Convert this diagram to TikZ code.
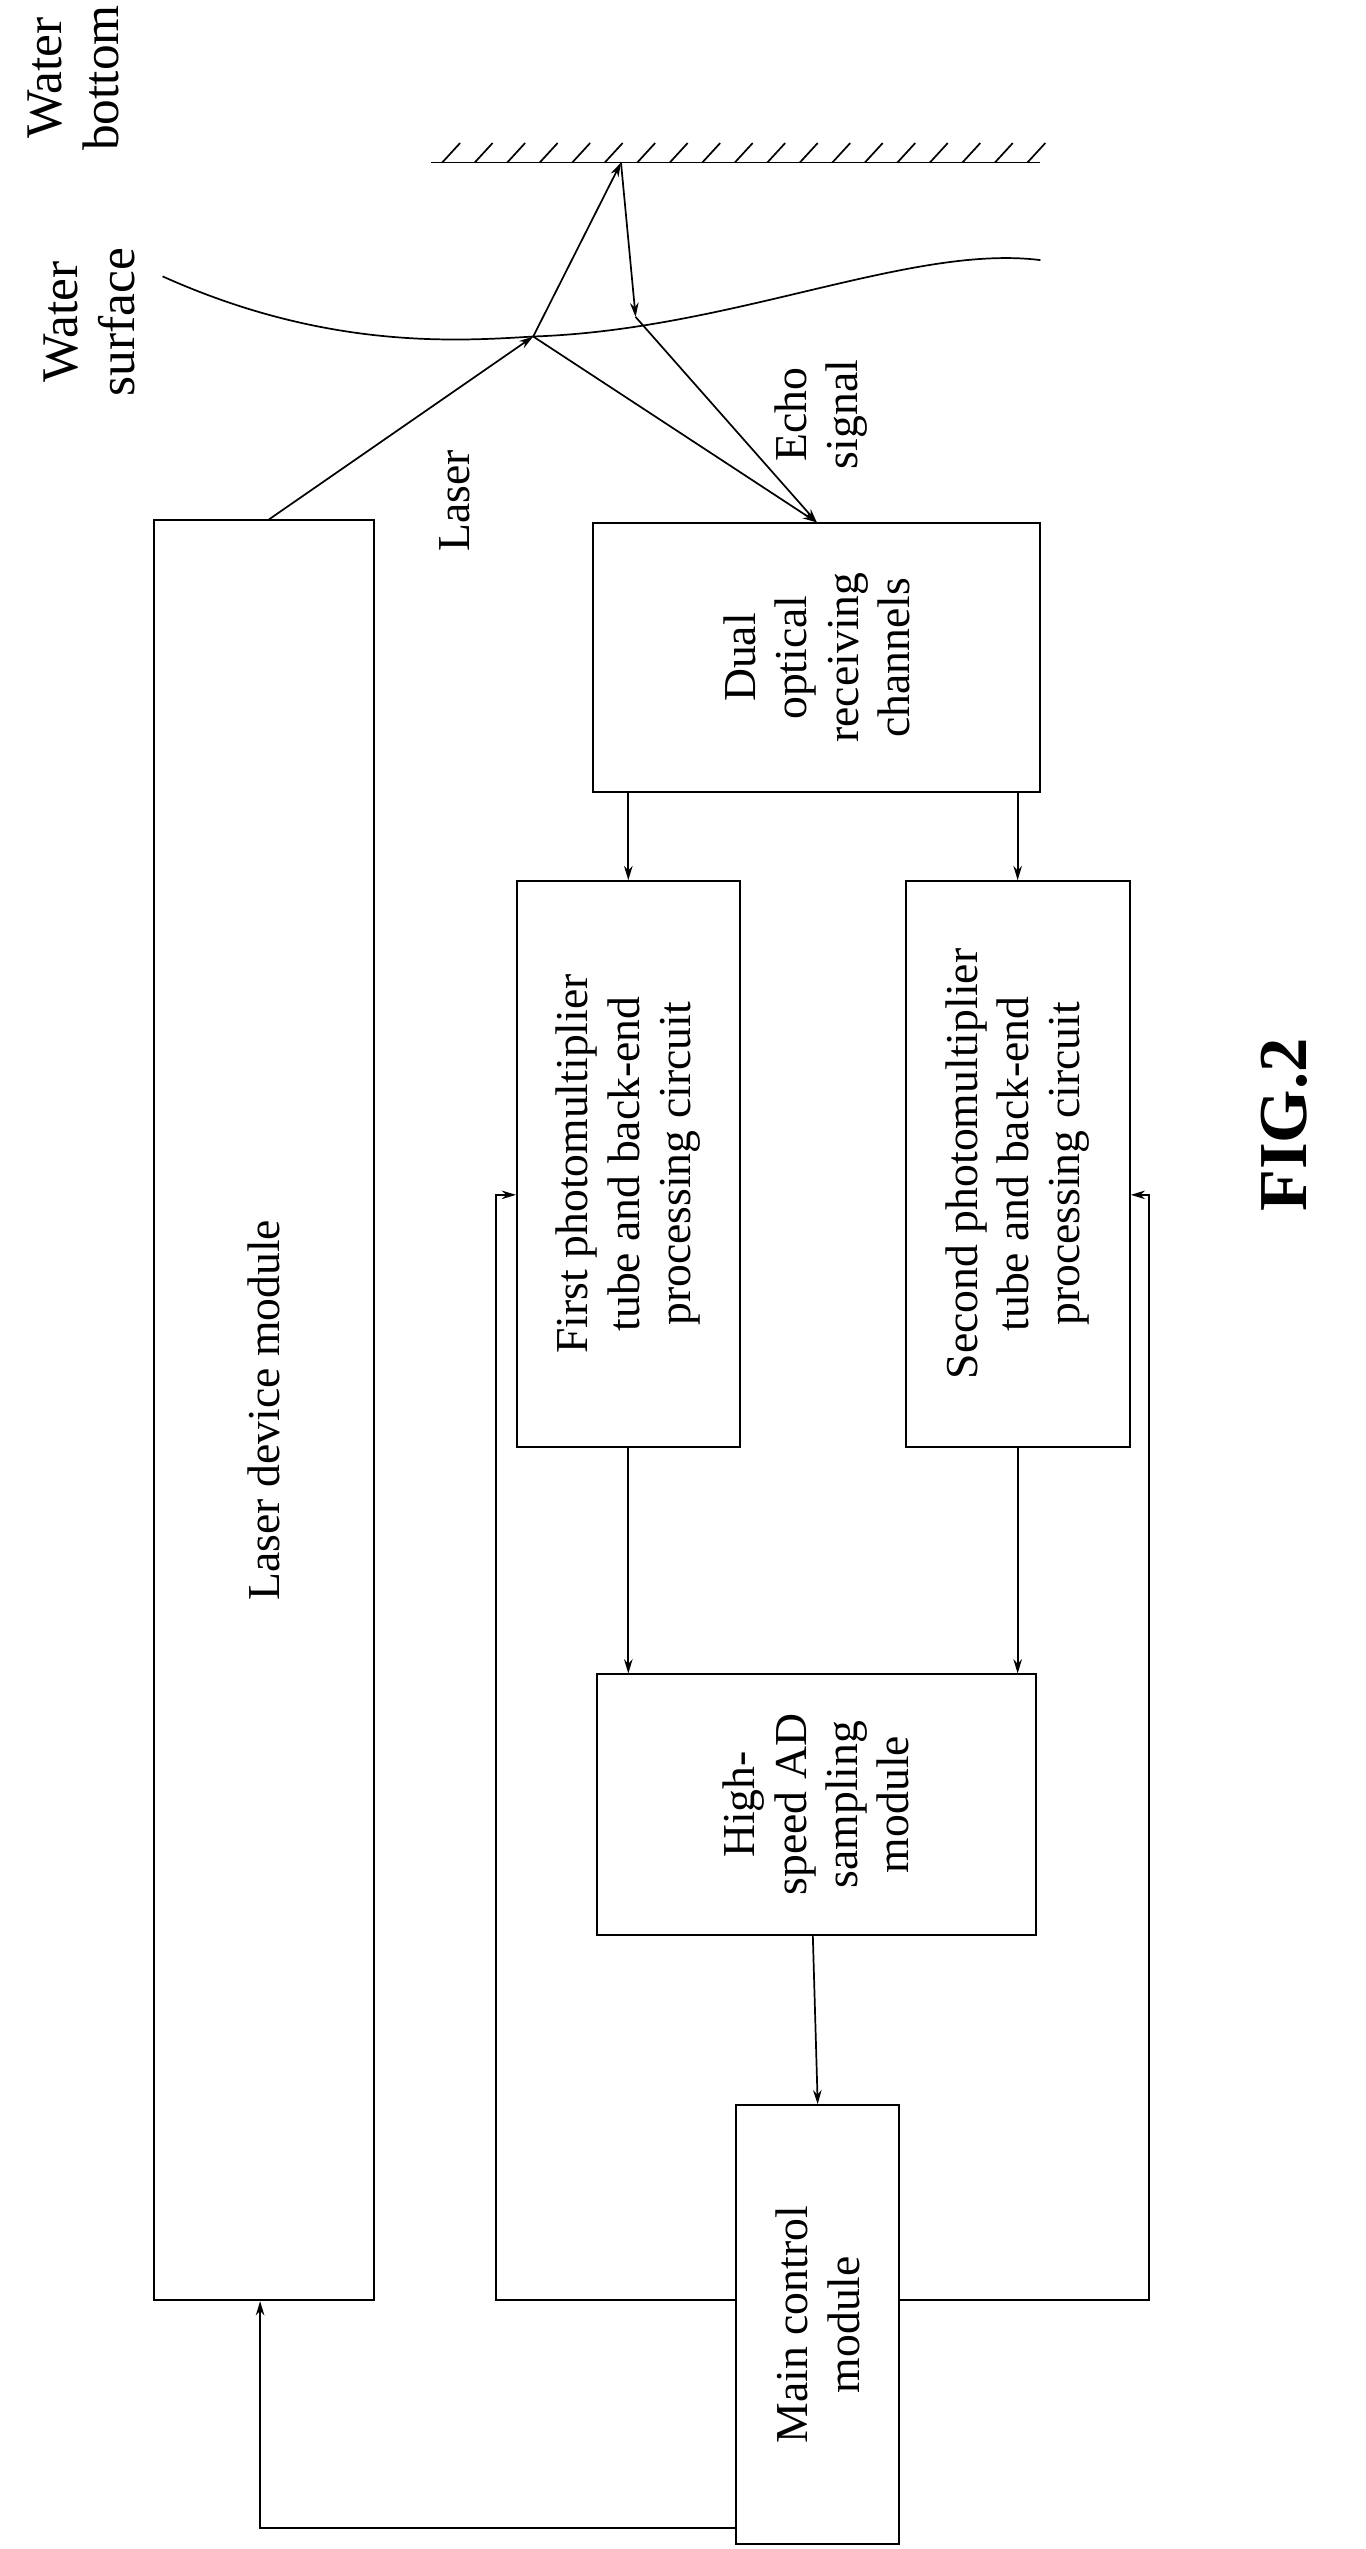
\documentclass[tikz,border=0pt]{standalone}
\usepackage{fontspec}
\setmainfont{Liberation Serif}
\usetikzlibrary{arrows.meta}
\tikzset{
  blk/.style={draw, line width=0.7pt, inner sep=0pt},
  lbl/.style={rotate=90, align=center, font=\fontsize{16}{18}\selectfont},
  con/.style={line width=0.6pt, -{Stealth[length=5pt,width=3pt]}},
  ln/.style={line width=0.6pt}
}
\begin{document}
\begin{tikzpicture}[x=0.02cm, y=-0.02cm]
  \useasboundingbox (0,0) rectangle (840,1568);

  % water bottom and surface
  \draw[ln] (265,100) -- (640,100);
  \foreach \x in {272,292,...,632} \draw[ln] (\x,100) -- (\x+11,88);
  \draw[ln] (100,170) .. controls (200,215) and (280,210) .. (328,207)
            .. controls (450,203) and (560,150) .. (640,160);
  \node[lbl, font=\fontsize{18}{20}\selectfont] (wb) at (45,48) {Water\\bottom};
  \node[lbl, font=\fontsize{18}{20}\selectfont] (ws) at (55,198) {Water\\surface};

  % boxes
  \node[blk, minimum width=2.7cm, minimum height=21.9cm] (laser) at (162.5,867.5) {};
  \node[lbl] at (laser) {Laser device module};
  \node[blk, minimum width=5.5cm, minimum height=3.3cm] (dual) at (502.5,404.5) {};
  \node[lbl] at (dual) {Dual\\optical\\receiving\\channels};
  \node[blk, minimum width=2.74cm, minimum height=6.96cm] (pmt1) at (386.5,716) {};
  \node[lbl] at (pmt1) {First photomultiplier\\tube and back-end\\processing circuit};
  \node[blk, minimum width=2.76cm, minimum height=6.96cm] (pmt2) at (626,716) {};
  \node[lbl] at (pmt2) {Second photomultiplier\\tube and back-end\\processing circuit};
  \node[blk, minimum width=5.4cm, minimum height=3.2cm] (adc) at (502,1110) {};
  \node[lbl] at (adc) {High-\\speed AD\\sampling\\module};
  \node[blk, minimum width=2cm, minimum height=5.4cm] (mcu) at (503,1430) {};
  \node[lbl] at (mcu) {Main control\\module};
  \node[lbl] (lasertxt) at (280,308) {Laser};
  \node[lbl] (echo) at (505,255) {Echo\\signal};
  \node[rotate=90, font=\bfseries\fontsize{24}{26}\selectfont] (fig) at (790,692) {FIG.2};

  % light path
  \coordinate (hit) at (328,207);
  \coordinate (bot) at (382,100);
  \coordinate (ret) at (391,195);
  \draw[con] (laser.north) ++(3,0) -- (hit);
  \draw[con] (hit) -- (bot);
  \draw[con] (bot) -- (ret);
  \draw[con] (ret) -- (dual.north);
  \draw[con] (hit) -- (dual.north);

  % signal flow
  \draw[con] (dual.south -| pmt1) -- (pmt1.north);
  \draw[con] (dual.south -| pmt2) -- (pmt2.north);
  \draw[con] (pmt1.south) -- (adc.north -| pmt1);
  \draw[con] (pmt2.south) -- (adc.north -| pmt2);
  \draw[con] (adc.south) ++(-2,0) -- (mcu.north);
  \draw[con] (mcu.west |- 0,1415) -- (305,1415) -- (305,735) -- (pmt1.west |- 0,735);
  \draw[con] (mcu.east |- 0,1415) -- (707,1415) -- (707,735) -- (pmt2.east |- 0,735);
  \draw[con] (mcu.west |- 0,1555) -- (160,1555) -- (laser.south -| 160,0);
\end{tikzpicture}
\end{document}
